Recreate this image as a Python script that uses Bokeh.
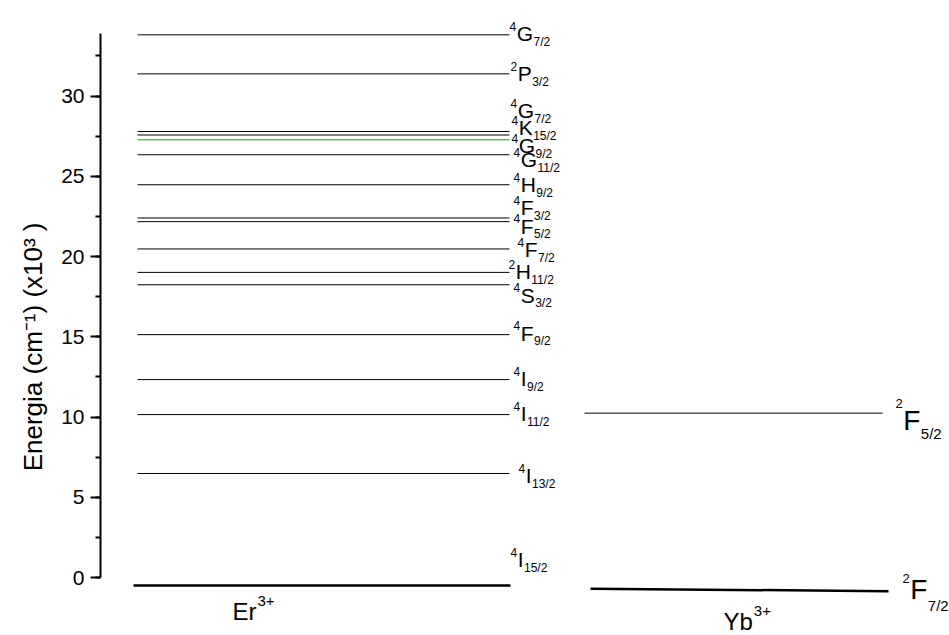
from bokeh.plotting import figure
from bokeh.models import Range1d, SingleIntervalTicker, ColumnDataSource
from bokeh.core.properties import value
from bokeh.embed import file_html
from bokeh.resources import INLINE

# ---------------- data (energies in 10^3 cm^-1) ----------------
er_sup = ["4", "2", "4", "4", "4", "4", "4", "4", "4", "4", "2", "4", "4", "4", "4", "4", "4"]
er_main = ["G", "P", "G", "K", "G", "G", "H", "F", "F", "F", "H", "S", "F", "I", "I", "I", "I"]
er_sub = ["7/2", "3/2", "7/2", "15/2", "9/2", "11/2", "9/2", "3/2", "5/2", "7/2", "11/2",
          "3/2", "9/2", "9/2", "11/2", "13/2", "15/2"]
er_energy = [33.81, 31.38, 27.79, 27.57, 27.27, 26.34, 24.47, 22.40, 22.17, 20.47, 19.01,
             18.24, 15.13, 12.33, 10.15, 6.48, -0.50]

yb_sup = ["2", "2"]
yb_main = ["F", "F"]
yb_sub = ["5/2", "7/2"]
yb_energy = [10.24, -0.70]
yb_ground_end = -0.85

ion_names = ["Er", "Yb"]
ion_charges = ["3+", "3+"]

y_tick_interval = 5
y_axis_title = "Energia (cm\u207b\u00b9) (x10\u00b3 )"

# ---------------- layout ----------------
FONT = "Liberation Sans"
W, H = 949, 635
BL, BR, BT, BB = 100, 0, 0, 0
PX_PER_UNIT = 16.05
ZERO_PAGE_Y = 577.0
y_top = (ZERO_PAGE_Y - BT) / PX_PER_UNIT
y_bot = (ZERO_PAGE_Y - (H - BB)) / PX_PER_UNIT
x_span = W - BL - BR
BASE_FIX = 0.36  # baseline correction factor (x font size)


def px(page_x):
    return page_x - BL


def py(page_y):
    return (ZERO_PAGE_Y - page_y) / PX_PER_UNIT


CW = {'0': .556, '1': .556, '2': .556, '3': .556, '4': .556, '5': .556, '6': .556, '7': .556,
      '8': .556, '9': .556, '/': .278, '+': .584, '-': .333, 'G': .778, 'P': .667, 'K': .667,
      'H': .722, 'F': .611, 'S': .667, 'I': .278, 'E': .667, 'r': .333, 'Y': .667, 'b': .556}


def tw(s, fs):
    return sum(CW.get(c, .556) for c in s) * fs


p = figure(width=W, height=H, x_range=Range1d(0, x_span), y_range=Range1d(y_bot, y_top),
           output_backend="svg", toolbar_location=None, x_axis_location=None,
           min_border_left=BL, min_border_right=BR, min_border_top=BT, min_border_bottom=BB)
p.grid.visible = False
p.outline_line_color = None
p.background_fill_color = "white"
p.border_fill_color = "white"

ax = p.yaxis[0]
ax.ticker = SingleIntervalTicker(interval=y_tick_interval, num_minor_ticks=2)
ax.bounds = (0, py(33))
ax.axis_line_width = 2
ax.major_tick_line_width = 2
ax.minor_tick_line_width = 2
ax.major_tick_in = 0
ax.major_tick_out = 10
ax.minor_tick_in = 0
ax.minor_tick_out = 5
ax.major_label_text_font = FONT
ax.major_label_text_font_size = "21px"
ax.major_label_text_color = "black"
ax.major_label_standoff = 6
ax.axis_line_color = "black"
ax.major_tick_line_color = "black"
ax.minor_tick_line_color = "black"
ax.axis_label = y_axis_title + "\u00a0" * 8
ax.axis_label_text_font = FONT
ax.axis_label_text_font_size = "26px"
ax.axis_label_text_font_style = "normal"
ax.axis_label_text_color = "black"
ax.axis_label_standoff = 10

# ---------------- Er levels ----------------
n_er = len(er_energy)
er_x0 = [px(137)] * (n_er - 1) + [px(133)]
er_x1 = [px(509)] * (n_er - 1) + [px(510)]
er_col = ["black"] * n_er
er_col[4] = "#2a8a2a"
er_lw = [1] * (n_er - 1) + [2.5]
p.segment(x0=er_x0, y0=er_energy, x1=er_x1, y1=er_energy, line_color=er_col, line_width=er_lw)

# Yb levels
yb_x0 = [px(584), px(590)]
yb_x1 = [px(882), px(888)]
yb_y1 = [yb_energy[0], yb_ground_end]
p.segment(x0=yb_x0, y0=yb_energy, x1=yb_x1, y1=yb_y1, line_color="black", line_width=[1, 2.5])

# ---------------- term labels ----------------
er_lab_x = [509, 510, 510, 511, 511, 513, 513, 513, 513, 517, 508, 513, 513, 513, 513, 518, 510]
er_lab_dy = [-1, -0.5, -21, -7, 6, 5, 0, -10, 4.5, 1, -1, 10.5, -1.5, -1, -1, 2, -25.5]
ER_FM, ER_FS, ER_FB = 21, 12, 12
ER_SUP_DY, ER_SUB_DY = -3, 12.5

yb_lab_x = [895, 902]
yb_lab_dy = [7.7, 0.8]
YB_FM, YB_FS, YB_FB = 28, 13, 15
yb_sup_dy = [-13, -6]
yb_sub_dy = [18, 21]


def draw_terms(energy, sups, mains, subs, lab_x, lab_dy, fm, fsup, fsub, sup_dy, sub_dy):
    xs_sup, xs_main, xs_sub = [], [], []
    off_sup, off_main, off_sub = [], [], []
    for i in range(len(energy)):
        x0 = lab_x[i]
        x1 = x0 + tw(sups[i], fsup) + 0.5
        x2 = x1 + tw(mains[i], fm) + 0.5
        xs_sup.append(px(x0)); xs_main.append(px(x1)); xs_sub.append(px(x2))
        c = lab_dy[i]
        sd = sup_dy[i] if isinstance(sup_dy, list) else sup_dy
        bd = sub_dy[i] if isinstance(sub_dy, list) else sub_dy
        off_main.append(c + 0.358 * fm - BASE_FIX * fm)
        off_sup.append(c + sd - BASE_FIX * fsup)
        off_sub.append(c + bd - BASE_FIX * fsub)
    for xs, offs, txt, fs in ((xs_sup, off_sup, sups, fsup), (xs_main, off_main, mains, fm),
                              (xs_sub, off_sub, subs, fsub)):
        src = ColumnDataSource(dict(x=xs, y=energy, t=txt, o=offs))
        p.text(x="x", y="y", text="t", y_offset="o", source=src, text_font=value(FONT),
               text_font_size=f"{fs}px", text_align="left", text_baseline="alphabetic",
               text_color="black")


draw_terms(er_energy, er_sup, er_main, er_sub, er_lab_x, er_lab_dy, ER_FM, ER_FS, ER_FB,
           ER_SUP_DY, ER_SUB_DY)
draw_terms(yb_energy, yb_sup, yb_main, yb_sub, yb_lab_x, yb_lab_dy, YB_FM, YB_FS, YB_FB,
           yb_sup_dy, yb_sub_dy)

# ---------------- ion labels ----------------
ion_x = [232, 723]
ion_base = [620, 630]
ion_charge_base = [606, 616]
ION_FS, CH_FS = 24, 15
for i in range(2):
    p.text(x=[px(ion_x[i])], y=[py(ion_base[i] - BASE_FIX * ION_FS)], text=[ion_names[i]],
           text_font=value(FONT), text_font_size=f"{ION_FS}px", text_baseline="alphabetic",
           text_align="left", text_color="black")
    p.text(x=[px(ion_x[i] + tw(ion_names[i], ION_FS) + 1)],
           y=[py(ion_charge_base[i] - BASE_FIX * CH_FS)], text=[ion_charges[i]],
           text_font=value(FONT), text_font_size=f"{CH_FS}px", text_baseline="alphabetic",
           text_align="left", text_color="black")

open("out.html", "w").write(file_html(p, INLINE))
